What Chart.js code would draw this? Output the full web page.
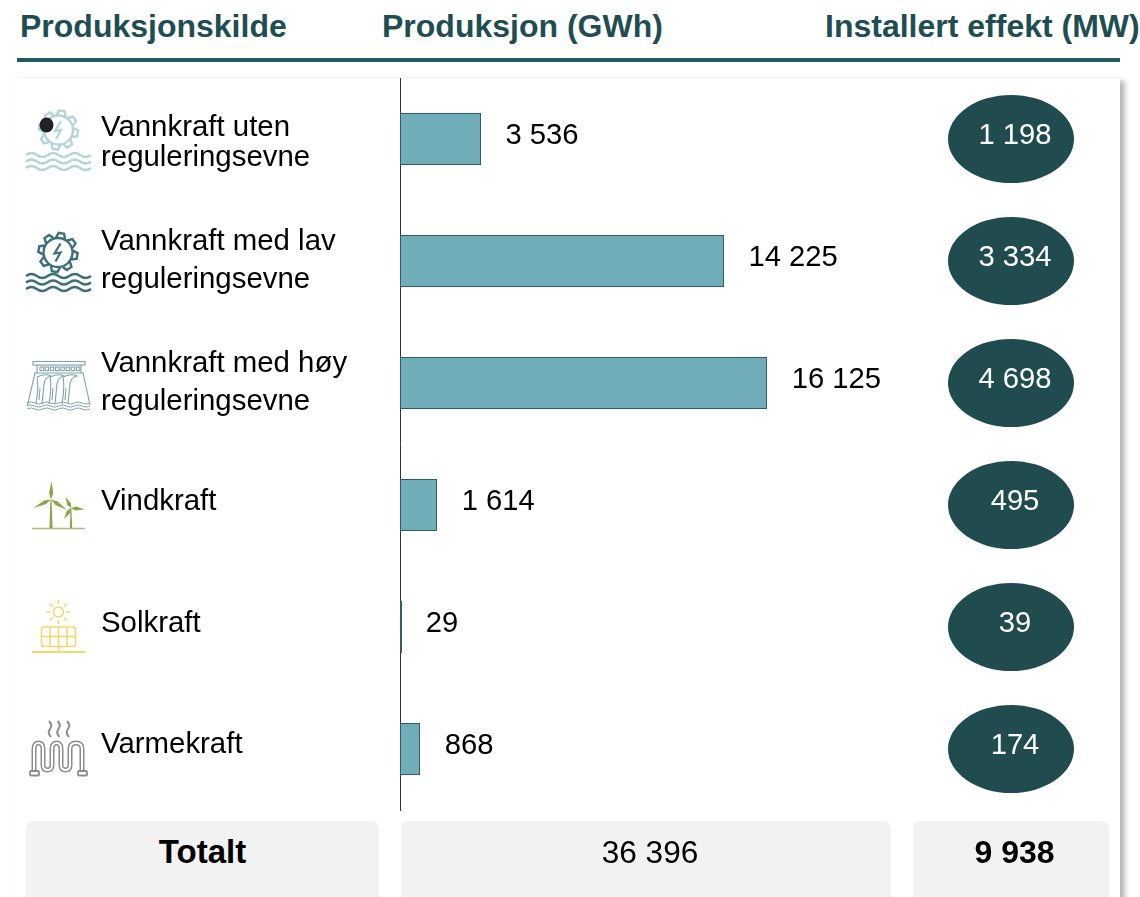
<!DOCTYPE html>
<html lang="no">
<head>
<meta charset="utf-8">
<title>Produksjonskilde</title>
<script src="https://cdn.jsdelivr.net/npm/chart.js@4"></script>
<style>
  html, body { margin: 0; padding: 0; background: #fff; }
  body { position: relative; width: 1140px; height: 897px; overflow: hidden; font-family: "Liberation Sans", Arial, sans-serif; }
  canvas, .abs, svg.icons { position: absolute; }
  #card { left: 15px; top: 78px; width: 1105px; height: 830px; background: #fff; box-shadow: 5px 3px 5px rgba(0,0,0,.28), 0 0 3px rgba(0,0,0,.05); }
  #rule { left: 17px; top: 58px; width: 1103px; height: 4px; background: #1f5b60; }
  .head { top: 8px; font-size: 32px; font-weight: bold; color: #1f4e52; white-space: nowrap; line-height: 36px; }
  .total { top: 821px; height: 90px; background: #f2f2f2; border-radius: 8px; text-align: center; line-height: 62px; color: #000; box-sizing: border-box; }
</style>
</head>
<body>
<div id="card" class="abs"></div>
<div class="abs head" style="left:20px">Produksjonskilde</div>
<div class="abs head" style="left:382px">Produksjon (GWh)</div>
<div class="abs head" style="left:825px">Installert effekt (MW)</div>
<div id="rule" class="abs"></div>
<canvas id="chart" width="1140" height="897"></canvas>
<svg class="icons" id="icons" width="1140" height="897" style="left:0;top:0" fill="none"></svg>
<div class="abs total" style="left:26px;width:353px;font-weight:bold;font-size:33px">Totalt</div>
<div class="abs total" id="totalProd" style="left:401px;width:490px;font-size:31.6px;padding-left:8px"></div>
<div class="abs total" id="totalMw" style="left:913px;width:196px;font-weight:bold;font-size:32px;padding-left:7px"></div>

<script>
const categories = [
  ["Vannkraft uten", "reguleringsevne"],
  ["Vannkraft med lav", "reguleringsevne"],
  ["Vannkraft med høy", "reguleringsevne"],
  ["Vindkraft"],
  ["Solkraft"],
  ["Varmekraft"],
];
const production = [3536, 14225, 16125, 1614, 29, 868];
const installed = [1198, 3334, 4698, 495, 39, 174];
const totalProduction = 36396;
const totalInstalled = 9938;

const fontFamily = '"Liberation Sans", Arial, sans-serif';
// baseline av kategoritekst i forhold til radens midtpunkt
const labelBaselines = [[-3, 27], [-11, 27], [-11, 27], [5], [5], [4]];

const fmt = (n) => String(n).replace(/\B(?=(\d{3})+$)/g, " ");

document.getElementById("totalProd").textContent = fmt(totalProduction);
document.getElementById("totalMw").textContent = fmt(totalInstalled);

const rowLabels = {
  id: "rowLabels",
  afterDatasetsDraw(chart) {
    const { ctx } = chart;
    const yScale = chart.scales.y;
    const xScale = chart.scales.x;
    const bars = chart.getDatasetMeta(0).data;
    ctx.save();
    ctx.textBaseline = "alphabetic";

    categories.forEach((lines, i) => {
      const y = yScale.getPixelForValue(i);

      ctx.font = `29.4px ${fontFamily}`;
      ctx.textAlign = "left";
      ctx.fillStyle = "#000";
      lines.forEach((line, k) => ctx.fillText(line, 101, y + labelBaselines[i][k]));

      // tynn ramme rundt stolpen, minst en piksel bred
      const bar = bars[i];
      const x0 = Math.round(xScale.getPixelForValue(0)) + 0.5;
      const x1 = Math.max(Math.floor(bar.x) + 0.5, x0 + 1);
      const top = Math.round(y - bar.height / 2) + 0.5;
      ctx.strokeStyle = "#2f5f66";
      ctx.lineWidth = 1;
      ctx.strokeRect(x0, top, x1 - x0, Math.round(bar.height));

      // verdi til høyre for stolpen
      ctx.font = `29.2px ${fontFamily}`;
      ctx.fillText(fmt(production[i]), bar.x + 25, y + 5);

      // installert effekt i ellipse
      ctx.fillStyle = "#204c50";
      ctx.beginPath();
      ctx.ellipse(1011, y, 63, 44, 0, 0, Math.PI * 2);
      ctx.fill();
      ctx.fillStyle = "#fff";
      ctx.textAlign = "center";
      ctx.fillText(fmt(installed[i]), 1015, y + 5);
    });
    ctx.restore();
  },
};

new Chart(document.getElementById("chart"), {
  type: "bar",
  data: {
    labels: categories.map((c) => c.join(" ")),
    datasets: [{
      data: production,
      backgroundColor: "#70adb8",
      borderWidth: 0,
      categoryPercentage: 1,
      barPercentage: 0.42,
    }],
  },
  options: {
    indexAxis: "y",
    responsive: false,
    animation: false,
    layout: { padding: { left: 400, top: 78, right: 251, bottom: 87 } },
    plugins: { legend: { display: false }, tooltip: { enabled: false } },
    scales: {
      x: { display: false, min: 0, max: 21500 },
      y: {
        grid: { display: false, drawTicks: false },
        ticks: { display: false },
        border: { color: "#333", width: 1 },
      },
    },
  },
  plugins: [rowLabels],
});

// ikoner
function gear(cx, cy, color) {
  let teeth = "";
  for (let a = 0; a < 8; a++) {
    teeth += `<path transform="rotate(${a * 45 + 10} ${cx} ${cy})" d="M${cx - 4.5} ${cy - 14.5} L${cx - 2.8} ${cy - 19.5} L${cx + 2.8} ${cy - 19.5} L${cx + 4.5} ${cy - 14.5}" stroke="${color}" stroke-width="2.4"/>`;
  }
  return `<circle cx="${cx}" cy="${cy}" r="14.5" stroke="${color}" stroke-width="2.4"/>${teeth}` +
    `<path d="M${cx + 2.5} ${cy - 9} L${cx - 3.5} ${cy + 1} L${cx + 2.5} ${cy} L${cx - 2.5} ${cy + 9}" stroke="${color}" stroke-width="2.2"/>`;
}
function waves(x0, x1, y, color, width, count, amp) {
  const step = (x1 - x0) / count;
  let d = `M${x0} ${y}`;
  for (let k = 0; k < count; k++) {
    const x = x0 + k * step;
    d += ` Q${x + step / 2} ${y + (k % 2 ? amp : -amp)} ${x + step} ${y}`;
  }
  return `<path d="${d}" stroke="${color}" stroke-width="${width}"/>`;
}
const hydroRow = (cx, cy, color, wy) =>
  gear(cx, cy, color) +
  waves(26, 91, wy, color, 2.4, 6, 4) +
  waves(26, 91, wy + 6.5, color, 2.4, 6, 4) +
  waves(26, 91, wy + 13, color, 2.4, 6, 4);

function dam(color) {
  let s = `<g stroke="${color}" stroke-width="1.1">`;
  s += `<rect x="33" y="361.5" width="52" height="3.5"/><path d="M37 365V373M81 365V373M34 373H84"/>`;
  for (let x = 40; x < 80; x += 5.2) s += `<rect x="${x}" y="367" width="3.4" height="3.6"/>`;
  s += `<path d="M35 373L27.5 405M83 373L90 405"/>`;
  [37, 50, 63].forEach((x) => {
    s += `<path d="M${x} 377Q${x + 9} 373 ${x + 14} 376Q${x + 8} 377 ${x + 7} 384L${x + 5} 404M${x} 377Q${x + 2} 386 ${x - 1} 404M${x + 3} 388L${x + 2} 400"/>`;
  });
  s += waves(27, 90, 403, color, 1, 8, 2.2) + waves(27, 90, 406, color, 1, 8, 2.2) + waves(27, 90, 409, color, 1, 8, 2.2);
  return s + "</g>";
}

function blade(hx, hy, tx, ty, color) {
  const dx = tx - hx, dy = ty - hy;
  const len = Math.hypot(dx, dy);
  const nx = (-dy / len) * 2.1, ny = (dx / len) * 2.1;
  const mx = hx + dx * 0.35, my = hy + dy * 0.35;
  return `<path d="M${hx} ${hy}L${mx + nx} ${my + ny}L${tx} ${ty}L${mx - nx} ${my - ny}Z" fill="${color}"/>`;
}
function wind(color) {
  return `<path d="M32 528.5H85" stroke="#a9bd7a" stroke-width="1.6"/>` +
    `<path d="M49.4 528L50.4 500H51.6L52.6 528Z" fill="${color}"/>` +
    blade(51, 499.5, 51.5, 481, color) + blade(51, 499.5, 33.5, 508, color) + blade(51, 499.5, 67, 510, color) +
    `<path d="M69.8 528L70.6 508H71.4L72.2 528Z" fill="${color}"/>` +
    blade(71, 508, 65.5, 497, color) + blade(71, 508, 64, 519, color) + blade(71, 508, 84.5, 509.5, color);
}

function solar(color) {
  let s = `<g stroke="${color}" stroke-width="1.6"><circle cx="58.4" cy="612" r="5"/>`;
  for (let a = 0; a < 8; a++) {
    const r = (a * Math.PI) / 4;
    s += `<path d="M${58.4 + Math.cos(r) * 8} ${612 + Math.sin(r) * 8}L${58.4 + Math.cos(r) * 12} ${612 + Math.sin(r) * 12}"/>`;
  }
  s += `<rect x="41.5" y="627" width="34" height="19.5" rx="2.5"/>`;
  s += `<path d="M50 627V646.5M58.5 627V652M67 627V646.5M41.5 636.5H75.5"/>`;
  s += `<path d="M32 652H85" stroke-width="1.8"/></g>`;
  return s;
}

function heat(color) {
  const steam = [50, 58.5, 68].map((x) =>
    `<path d="M${x - 1} 721Q${x + 3} 725 ${x} 729Q${x - 3} 733 ${x + 1} 737" stroke="${color}" stroke-width="2"/>`).join("");
  const pipe = "M34 772V749Q34 743 38.5 743Q43 743 43 749V765Q43 770 47.5 770Q52 770 52 765V749Q52 743 56.5 743Q61 743 61 749V765Q61 770 65.5 770Q70 770 70 765V749Q70 743 76 743Q82 743 82 749V772";
  return steam +
    `<path d="${pipe}" stroke="${color}" stroke-width="5"/>` +
    `<path d="${pipe}" stroke="#fff" stroke-width="2"/>` +
    `<rect x="30" y="771" width="9" height="4.5" rx="1" stroke="${color}" stroke-width="1.8"/>` +
    `<rect x="78" y="771" width="9" height="4.5" rx="1" stroke="${color}" stroke-width="1.8"/>`;
}

document.getElementById("icons").innerHTML =
  hydroRow(58.5, 130, "#b4d5dc", 155) +
  `<ellipse cx="46.5" cy="125" rx="7" ry="7.5" fill="#222"/>` +
  hydroRow(58, 252.5, "#3b6f79", 276) +
  dam("#7fa3a9") +
  wind("#8aa64a") +
  solar("#f6d76e") +
  heat("#8c8c8c");
</script>
</body>
</html>
